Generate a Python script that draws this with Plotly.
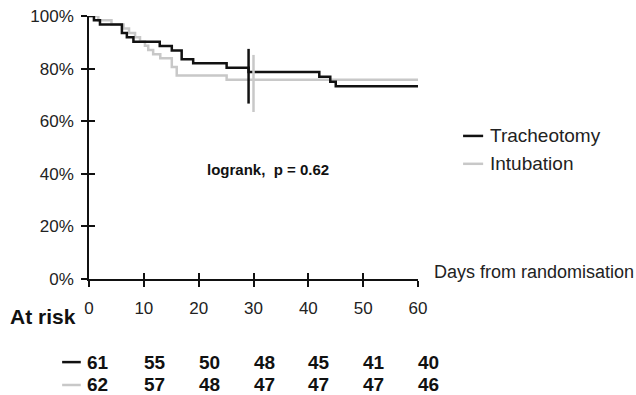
import plotly.graph_objects as go

# ---- data ----
trach_t = [0, 0.9, 2.0, 6.0, 6.9, 8.1, 12.9, 15.1, 16.9, 19.0, 25.1, 29.1, 42.0, 44.0, 45.0, 60]
trach_s = [100, 98.4, 96.8, 93.5, 91.9, 90.2, 88.6, 86.9, 83.6, 82.0, 80.3, 78.7, 76.9, 75.0, 73.3, 73.3]
intub_t = [0, 1.7, 4.1, 6.3, 7.3, 8.4, 9.3, 10.2, 10.8, 11.7, 13.0, 15.1, 16.0, 25.1, 60]
intub_s = [100, 98.4, 96.8, 95.2, 93.5, 91.9, 90.3, 88.7, 87.1, 85.5, 83.9, 80.6, 77.4, 75.8, 75.8]

# censor marks (time, low, high)
trach_censor = [29.1, 66.7, 87.5]
intub_censor = [30.0, 63.5, 85.2]

x_ticks = [0, 10, 20, 30, 40, 50, 60]
y_ticks = [0, 20, 40, 60, 80, 100]
y_tick_labels = ["0%", "20%", "40%", "60%", "80%", "100%"]

risk_times = [0, 10, 20, 30, 40, 50, 60]
risk_trach = [61, 55, 50, 48, 45, 41, 40]
risk_intub = [62, 57, 48, 47, 47, 47, 46]

X_MAX = 60.0
Y_MAX = 100.0

BLACK = "#111111"
GREY = "#c8c8c8"
FONT = "Liberation Sans, Arial, sans-serif"


def px(day):
    return day / X_MAX


def py(pct):
    return pct / Y_MAX


fig = go.Figure()
fig.add_trace(go.Scatter(x=intub_t, y=intub_s, mode="lines", line=dict(color=GREY, width=2.5, shape="hv"),
                         name="Intubation", showlegend=False, hoverinfo="skip"))
fig.add_trace(go.Scatter(x=trach_t, y=trach_s, mode="lines", line=dict(color=BLACK, width=2.5, shape="hv"),
                         name="Tracheotomy", showlegend=False, hoverinfo="skip"))
fig.add_trace(go.Scatter(x=[intub_censor[0]] * 2, y=intub_censor[1:], mode="lines",
                         line=dict(color=GREY, width=2.5), showlegend=False, hoverinfo="skip"))
fig.add_trace(go.Scatter(x=[trach_censor[0]] * 2, y=trach_censor[1:], mode="lines",
                         line=dict(color=BLACK, width=2.5), showlegend=False, hoverinfo="skip"))

# overlay axes for crossing ticks
fig.add_trace(go.Scatter(x=[None], y=[None], xaxis="x2", yaxis="y2", showlegend=False, hoverinfo="skip"))

axis_common = dict(showgrid=False, zeroline=False, showline=True, linecolor=BLACK, linewidth=1.5,
                   tickcolor=BLACK, tickwidth=1.5, ticklen=6, automargin=False)

fig.update_layout(
    width=636, height=395,
    margin=dict(l=89, r=218, t=16, b=116, autoexpand=False),
    paper_bgcolor="white", plot_bgcolor="white",
    font=dict(family=FONT, color="#222222", size=17),
    xaxis=dict(range=[0, X_MAX], tickvals=x_ticks, ticks="outside", ticklabelstandoff=7,
               ticklabeloverflow="allow", tickfont=dict(size=17), **axis_common),
    yaxis=dict(range=[0, Y_MAX], tickvals=y_ticks, ticktext=y_tick_labels, ticks="outside",
               ticklabelstandoff=4, ticklabeloverflow="allow", tickfont=dict(size=17), **axis_common),
    xaxis2=dict(range=[0, X_MAX], tickvals=x_ticks, ticks="inside", showticklabels=False,
                overlaying="x", anchor="y2", **axis_common),
    yaxis2=dict(range=[0, Y_MAX], tickvals=y_ticks, ticks="inside", showticklabels=False,
                overlaying="y", anchor="x2", side="left", **axis_common),
    showlegend=False,
    hovermode=False,
)

ann = []
ann.append(dict(text="Days from randomisation", xref="paper", yref="paper", x=1.0426, y=py(2.7),
                xanchor="left", yanchor="middle", showarrow=False, font=dict(size=18)))
ann.append(dict(text="<b>logrank,\u00a0 p = 0.62</b>", xref="paper", yref="paper", x=px(32.6), y=py(41.8),
                xanchor="center", yanchor="middle", showarrow=False, font=dict(size=15, color="#111111")))
ann.append(dict(text="<b>At risk</b>", xref="paper", yref="paper", x=(8 - 89) / 329, y=py(-14.4),
                xanchor="left", yanchor="middle", showarrow=False, font=dict(size=21, color="#111111")))

# legend
legend_items = [("Tracheotomy", BLACK, 54.4), ("Intubation", GREY, 43.8)]
shapes = []
for name, col, yv in legend_items:
    shapes.append(dict(type="line", xref="paper", yref="paper", x0=1.137, x1=1.198, y0=py(yv), y1=py(yv),
                       line=dict(color=col, width=2.5)))
    ann.append(dict(text=name, xref="paper", yref="paper", x=1.2125, y=py(yv), xanchor="left",
                    yanchor="middle", showarrow=False, font=dict(size=19)))

# at-risk table
rows = [(risk_trach, BLACK, -31.6), (risk_intub, GREY, -40.3)]
for vals, col, yv in rows:
    shapes.append(dict(type="line", xref="paper", yref="paper", x0=px(-4.9), x1=px(-1.5), y0=py(yv), y1=py(yv),
                       line=dict(color=col, width=2.5)))
    for t, v in zip(risk_times, vals):
        ann.append(dict(text=f"<b>{v}</b>", xref="paper", yref="paper", x=px(t), y=py(yv), xanchor="left",
                        yanchor="middle", xshift=-4 if t == 0 else -2, showarrow=False,
                        font=dict(size=19, color="#111111")))

fig.update_layout(annotations=ann, shapes=shapes)
fig.write_html("out.html", config={"displayModeBar": False},
               post_script="document.body.style.margin='0';document.body.style.overflow='hidden';")
